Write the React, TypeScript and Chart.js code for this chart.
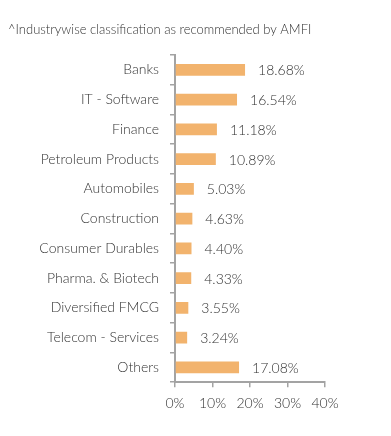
import React, { useEffect, useRef } from "react";
import { Chart, registerables } from "chart.js";

Chart.register(...registerables);

const titleText = "^Industrywise classification as recommended by AMFI";
const categories = [
  "Banks",
  "IT - Software",
  "Finance",
  "Petroleum Products",
  "Automobiles",
  "Construction",
  "Consumer Durables",
  "Pharma. & Biotech",
  "Diversified FMCG",
  "Telecom - Services",
  "Others",
];
const weights = [18.68, 16.54, 11.18, 10.89, 5.03, 4.63, 4.4, 4.33, 3.55, 3.24, 17.08];
const xTicks = [0, 10, 20, 30, 40];

const FONT = "Lato, 'Noto Sans', sans-serif";
const TEXT = "#333333";
const AXIS = "#a3a3a3";
const BAR = "#f2b36d";

const valueLabels = {
  id: "valueLabels",
  afterDatasetsDraw(chart: any) {
    const { ctx } = chart;
    const meta = chart.getDatasetMeta(0);
    const data = chart.data.datasets[0].data as number[];
    ctx.save();
    ctx.font = `300 14px ${FONT}`;
    ctx.fillStyle = TEXT;
    ctx.textAlign = "left";
    ctx.textBaseline = "middle";
    meta.data.forEach((el: any, i: number) => {
      ctx.fillText(data[i].toFixed(2) + "%", el.x + 13, el.y + 1);
    });
    ctx.restore();
  },
};

export default function App() {
  const ref = useRef<HTMLCanvasElement>(null);
  useEffect(() => {
    const chart = new Chart(ref.current!, {
      type: "bar",
      data: {
        labels: categories,
        datasets: [
          {
            data: weights,
            backgroundColor: BAR,
            barPercentage: 0.8,
            categoryPercentage: 0.5,
          },
        ],
      },
      plugins: [valueLabels],
      options: {
        indexAxis: "y",
        animation: false,
        responsive: false,
        layout: { padding: { left: 8, right: 66, top: 0, bottom: 16 } },
        plugins: {
          legend: { display: false },
          tooltip: { enabled: false },
          title: {
            display: true,
            text: titleText,
            align: "start",
            color: TEXT,
            font: { family: FONT, size: 13, weight: "300" },
            padding: { top: 22, bottom: 17.4 },
          },
        },
        scales: {
          x: {
            min: 0,
            max: 40,
            afterBuildTicks: (scale: any) => {
              scale.ticks = xTicks.map((v) => ({ value: v }));
            },
            ticks: {
              color: TEXT,
              font: { family: FONT, size: 14, weight: "300" },
              padding: 8,
              maxRotation: 0,
              callback: (v: any) => v + "%",
            },
            grid: {
              display: true,
              drawOnChartArea: false,
              drawTicks: true,
              tickLength: 5,
              color: AXIS,
              lineWidth: 1.5,
            },
            border: { display: true, color: AXIS, width: 2 },
          },
          y: {
            afterFit: (scale: any) => {
              scale.width = 167;
            },
            ticks: {
              color: TEXT,
              font: { family: FONT, size: 14, weight: "300" },
              padding: 11,
            },
            grid: {
              display: true,
              drawOnChartArea: false,
              drawTicks: true,
              tickLength: 5,
              offset: true,
              color: AXIS,
              lineWidth: 1.5,
            },
            border: { display: true, color: AXIS, width: 2 },
          },
        },
      },
    });
    return () => chart.destroy();
  }, []);
  return (
    <div style={{ position: "absolute", left: 0, top: 0, width: 391, height: 436, background: "#fff" }}>
      <canvas ref={ref} width={391} height={436} style={{ width: 391, height: 436 }} />
    </div>
  );
}
